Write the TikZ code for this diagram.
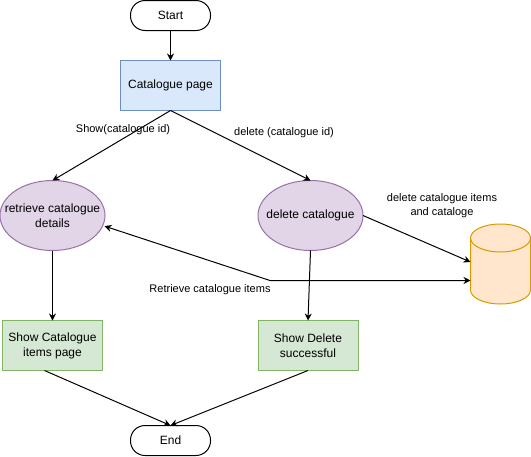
\documentclass[tikz,border=0pt]{standalone}
\usepackage{fontspec}
\setmainfont{Liberation Sans}
\usepackage{tikz}
\usetikzlibrary{arrows.meta}
\usetikzlibrary{shapes.geometric}

\definecolor{blueFill}{HTML}{DAE8FC}
\definecolor{blueLine}{HTML}{6C8EBF}
\definecolor{purpleFill}{HTML}{E1D5E7}
\definecolor{purpleLine}{HTML}{9673A6}
\definecolor{greenFill}{HTML}{D5E8D4}
\definecolor{greenLine}{HTML}{82B366}
\definecolor{orangeFill}{HTML}{FFE6CC}
\definecolor{orangeLine}{HTML}{D79B00}

\begin{document}
\begin{tikzpicture}[
        x = 1pt,
        y = -1pt,
        >={Stealth[length=7pt, width=7pt]},
        base/.style = {
            draw,
            line width = 1pt,
            inner sep = 0pt,
            outer sep = 0pt,
            align = center,
            font = \fontsize{12}{15}\selectfont
        },
        terminal/.style = {
            base,
            rounded corners = 14.5pt,
            minimum width = 80pt,
            minimum height = 30pt
        },
        page/.style = {
            base,
            minimum width = 100pt,
            minimum height = 50pt,
            draw = #1Line,
            fill = #1Fill
        },
        action/.style = {
            base,
            ellipse,
            inner xsep = -20pt,
            minimum width = 105pt,
            minimum height = 70pt,
            draw = purpleLine,
            fill = purpleFill
        },
        tag/.style = {
            align = center,
            inner sep = 0pt,
            font = \fontsize{11}{14}\selectfont
        },
        link/.style = {->, line width = 1pt}
        ]
        \useasboundingbox (0,0) rectangle (531,456);
%
        \node[terminal] (start) at (170.5,15.5) {Start};
        \node[page=blue] (catalogue) at (170.5,85.5) {Catalogue page};
%
        \node[action] (retrieve) at (52.5,215.5) {retrieve catalogue\\details};
        \node[action] (delete) at (310.5,215.5) {delete catalogue};
%
        \node[page=green] (items) at (52.5,345.5) {Show Catalogue\\items page};
        \node[page=green] (success) at (308,345.5) {Show Delete\\successful};
        \node[terminal] (end) at (170.5,440.5) {End};
%
        \node[minimum width=60pt, minimum height=80pt, inner sep=0pt, outer sep=0pt] (store) at (500.5,264) {};
        \draw[line width=1pt, draw=orangeLine, fill=orangeFill] (470.5,238)
                arc [start angle=180, end angle=360, x radius=30, y radius=14] -- (530.5,290)
                arc [start angle=0, end angle=180, x radius=30, y radius=14] -- cycle;
        \draw[line width=1pt, draw=orangeLine] (470.5,238) arc [start angle=180, end angle=0, x radius=30, y radius=14];
%
        \coordinate (bend) at (270,280.5);
%
        \draw[link] (start) -- (catalogue);
        \draw[link] (catalogue.south) -- (retrieve.north);
        \draw[link] (catalogue.south) -- (delete.north);
        \draw[link] (retrieve) -- (items);
        \draw[link] (delete.south) -- (success.north);
        \draw[link] ([xshift=-8pt]items.south) -- (end.north);
        \draw[link] (success.south) -- (end.north);
        \draw[link] (delete.east) -- ([yshift=2pt]store.west);
        \draw[<->, line width = 1pt] ([xshift=2pt]retrieve.-12) -- (bend) -- ([yshift=-16.5pt]store.west);
%
        \node[tag] at (123,130) {Show(catalogue id)};
        \node[tag] at (284,133) {delete (catalogue id)};
        \node[tag] at (442,206) {delete catalogue items\\and cataloge};
        \node[tag] at (210,290) {Retrieve catalogue items};
\end{tikzpicture}
\end{document}
